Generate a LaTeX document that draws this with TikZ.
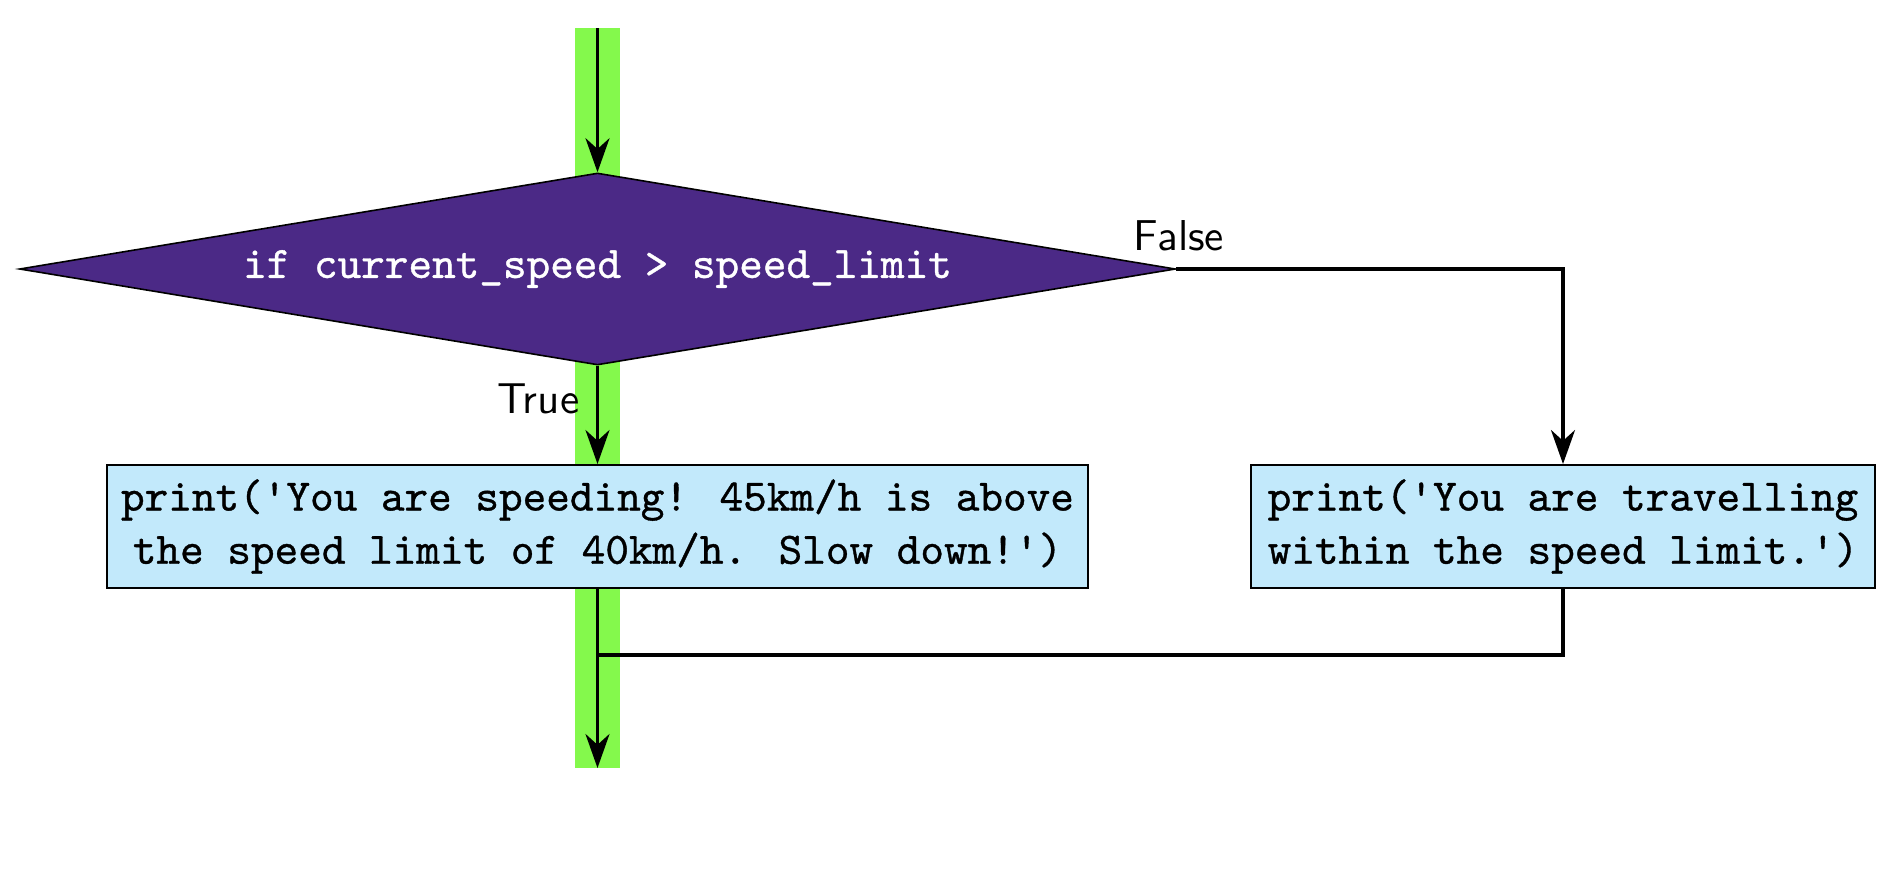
\documentclass[tikz,border=0pt]{standalone}
\usepackage{fontspec}
\newfontfamily\codefont[FakeBold=0.8]{lmmono10-regular.otf}
\usetikzlibrary{shapes.geometric,arrows.meta}
\definecolor{decpurple}{RGB}{75,41,134}
\definecolor{boxblue}{RGB}{194,233,251}
\definecolor{bandgreen}{RGB}{132,249,76}
\tikzset{
  codetxt/.style={font=\codefont\fontsize{11.25pt}{13.3pt}\selectfont},
  decision/.style={diamond, draw=black, line width=0.4pt, fill=decpurple,
    text=white, inner sep=0pt, aspect=6, minimum width=289pt, minimum height=48pt, codetxt},
  procbox/.style={rectangle, draw=black, line width=0.5pt, fill=boxblue,
    align=center, inner sep=0pt, minimum height=30.75pt, codetxt},
  conn/.style={line width=0.85pt, draw=black},
  arr/.style={conn, -{Stealth[length=8.5pt, width=6pt, inset=2.7pt]}},
  lbl/.style={font=\sffamily\fontsize{10.8pt}{13pt}\selectfont, inner sep=0pt},
}
\begin{document}
\begin{tikzpicture}[x=0.25pt,y=-0.25pt]
\useasboundingbox (0,0) rectangle (1896,868);
\fill[bandgreen] (575,28) rectangle (620,768);
\coordinate (top) at (597.5,28);
\coordinate (merge) at (597.5,655);
\coordinate (bot) at (597.5,768);
\node[decision] (d) at (597.5,269) {if current\_speed > speed\_limit};
\node[procbox, minimum width=245.25pt] (b1) at (597.5,526.5)
  {print('You are speeding! 45km/h is above\\the speed limit of 40km/h. Slow down!')};
\node[procbox, minimum width=156pt] (b2) at (1563,526.5)
  {print('You are travelling\\within the speed limit.')};
\draw[arr] (top) -- (d.north);
\draw[arr] (d.south) -- (b1.north);
\draw[arr] (d.east) -| (b2.north);
\draw[conn] (b2.south) |- (merge);
\draw[arr] (b1.south) -- (bot);
\node[lbl, anchor=base east] (tl) at (580,413) {True};
\node[lbl, anchor=base] (fl) at (1179,250) {False};
\end{tikzpicture}
\end{document}
